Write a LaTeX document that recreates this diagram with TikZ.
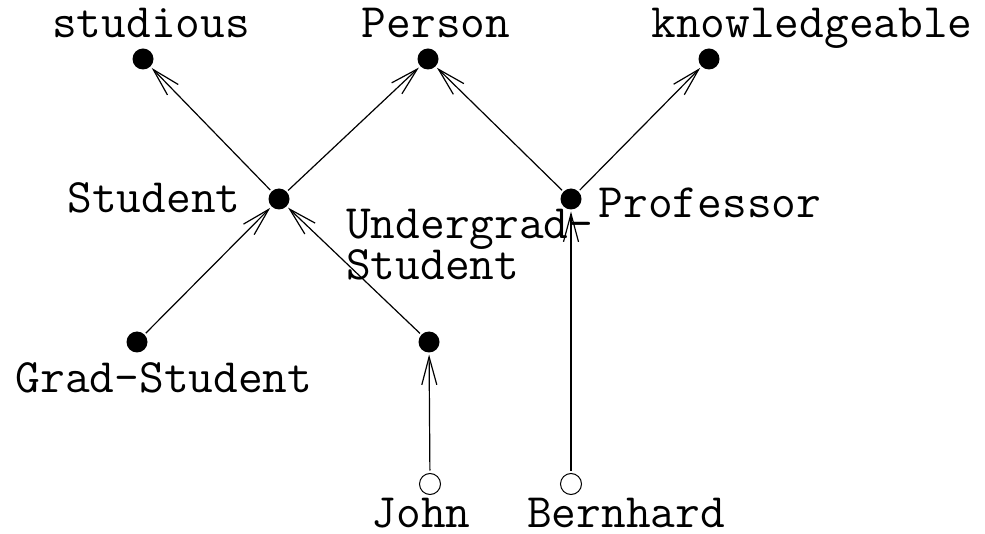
\documentclass[tikz,border=0pt]{standalone}
\usepackage{fontspec}
\usetikzlibrary{arrows.meta,positioning}

\begin{document}
\begin{tikzpicture}[x=1pt,y=-1pt, every node/.style={font=\ttfamily\fontsize{48}{40}\selectfont},
 dot/.style={circle,fill,inner sep=0pt,minimum size=21pt,outer sep=2pt},
 ind/.style={circle,draw,line width=1pt,inner sep=0pt,minimum size=21pt,outer sep=3pt},
 lab/.style={inner sep=0pt,anchor=base},
 arr/.style={-{Straight Barb[length=28pt,width=15pt,line width=1.2pt]},line width=1.2pt}]
\useasboundingbox (0,0) rectangle (985,534);
\node[dot](studious) at (143,59) {};
\node[dot](person) at (428,59) {};
\node[dot](knowl) at (709,59) {};
\node[dot](student) at (279,199) {};
\node[dot](prof) at (571,199) {};
\node[dot](grad) at (137,342) {};
\node[dot](ugrad) at (429,342) {};
\node[ind](john) at (430,484) {};
\node[ind](bernhard) at (571,484) {};
\node[lab](studious-l) at (151,38) {studious};
\node[lab](person-l) at (436,38) {Person};
\node[lab](knowl-l) at (812,38) {knowledgeable};
\node[lab](student-l) at (154,213) {Student};
\node[lab](prof-l) at (710,218) {Professor};
\node[lab](grad-l) at (164,392) {Grad-Student};
\node[inner sep=0pt,anchor=base west,align=left](ugrad-l) at (346,280) {Undergrad-\\Student};
\node[lab](john-l) at (421,527) {John};
\node[lab](bernhard-l) at (626,527) {Bernhard};
\draw[arr](student)--(studious);\draw[arr](student)--(person);\draw[arr](prof)--(person);\draw[arr](prof)--(knowl);\draw[arr](grad)--(student);\draw[arr](ugrad)--(student);\draw[arr](john)--(ugrad);\draw[arr](bernhard)--(prof);
\end{tikzpicture}
\end{document}
